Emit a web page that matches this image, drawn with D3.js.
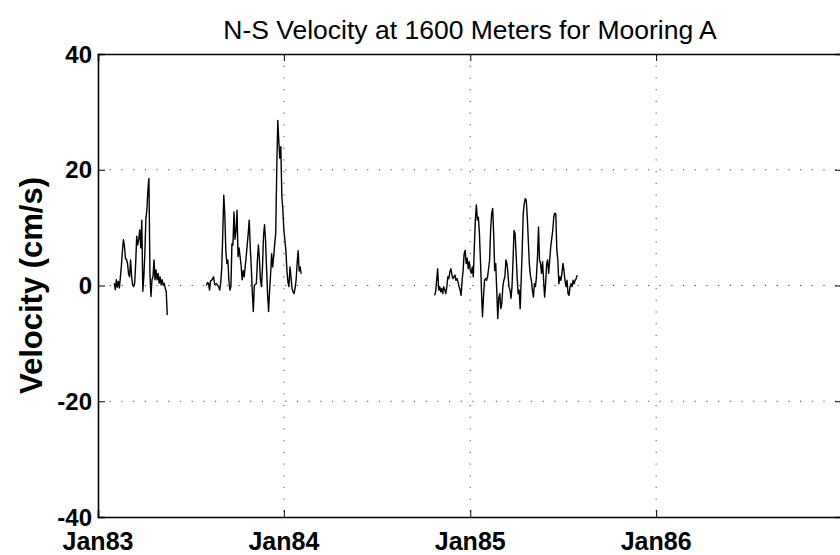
<!DOCTYPE html>
<html>
<head>
<meta charset="utf-8">
<script src="https://cdn.jsdelivr.net/npm/d3@7"></script>
<style>
body { margin: 0; background: #fff; }
svg { display: block; }
text { font-family: "Liberation Sans", Arial, sans-serif; fill: #000; }
</style>
</head>
<body>
<script>

// velocity records (cm/s), one value every 2 days from each start date
var stepDays = 2;

var seg1Start = "1983-02-02";
var seg1Values = [0.4, -0.7, 1.0, -0.3, 0.7, -0.4, 1.5, 3.5, 6.1, 7.9, 6.7, 4.6, 4.5, 3.8, 2.0, 1.5,
    4.4, 1.5, 0.1, -0.2, 0.4, 3.8, 8.5, 7.0, 8.0, 9.6, 6.5, 11.3, -1.0, 1.5, 5.5, 11.5, 13.0, 16.5,
    18.5, 2.0, -1.9, 1.0, 1.5, 4.4, 1.0, 2.7, 1.0, 2.1, 0.4, 1.5, 0.1, 1.0, 0.0, 0.4, -0.5, -1.0, -5.1];

var seg2Start = "1983-08-02";
var seg2Values = [0, 0.5, 0.4, -0.8, 0.8, 0.9, 1.2, 1.5, 0.2, 0.3, 0.3, 0, -0.2, -0.8, 0.5, 3.0,
    9.0, 15.6, 12.3, 6.0, 3.8, 4.4, 0.9, -0.8, -0.2, 7.2, 7.0, 12.7, 8.0, 9.5, 13.0, 5.0, 6.5, 5.0,
    3.5, 1.0, 2.6, 1.5, 3.2, 5.0, 7.0, 9.0, 11.3, 6.6, 3.2, -1.1, -4.5, 0, 0.2, 0.3, 4.4, 7.0, 4.4,
    1.0, -0.2, 3.2, 8.5, 10.5, 7.8, 3.0, -1.5, -4.5, -0.8, 2.0, 5.5, 3.2, 5.0, 7.2, 9.0, 20.0, 28.5,
    25.0, 22.0, 24.0, 15.5, 13.0, 9.5, 7.8, 6.0, 2.6, 0.6, -0.2, 3.2, 1.5, -0.5, -1.1, -1.4, -0.5,
    0.9, 3.8, 6.0, 2.5, 3.2, 2.0];

var seg3Start = "1984-10-23";
var seg3Values = [-1.7, -1.1, 0.9, 2.9, -0.8, -0.2, -1.1, -0.5, -1.4, -0.2, -0.8, -1.4, -0.2, 1.5,
    1.2, 2.4, 2.9, 1.8, 1.2, 1.5, 1.8, 0.9, 1.2, 0.6, -0.2, -0.8, -1.7, 0.9, 2.6, 5.5, 6.1, 3.8, 4.7,
    2.9, 4.1, 2.6, 2.1, 3.2, 1.5, 6.7, 11.3, 13.9, 11.3, 11.8, 9.0, 4.4, -0.8, -5.4, -2.0, 0.9, 1.2,
    0.9, 1.5, 2.9, 4.4, 9.5, 12.4, 13.3, 9.0, 2.6, 3.8, -0.8, -5.7, -2.2, -1.4, -4.0, -3.1, -0.2, 0.9,
    1.5, 4.4, 3.8, 2.1, -0.2, -0.8, -2.2, -0.2, 4.4, 9.5, 9.0, 5.5, 1.5, -1.4, -0.8, -4.0, 0.9, 6.1,
    12.4, 14.1, 15.0, 14.7, 11.8, 7.8, 3.8, 1.8, 0.9, -0.8, -2.0, 0.3, -0.2, 1.5, 4.9, 10.1, 4.4, 3.8,
    2.1, 4.1, 0.9, -2.0, 0.3, 3.8, 4.4, 2.1, 4.4, 6.7, 8.1, 9.5, 11.8, 12.5, 12.4, 6.1, 4.4, 0.3, 1.5,
    0.9, 2.1, 3.8, 2.6, 0.9, -0.2, 0.9, -1.4, -1.7, -0.2, 0.3, -0.2, 0.9, 0.3, 0.9, 1.2, 1.8];

var xTickDates = ["1983-01-01", "1984-01-01", "1985-01-01", "1986-01-01"];
var xTickLabels = ["Jan83", "Jan84", "Jan85", "Jan86"];
var yTicks = [-40, -20, 0, 20, 40];

var titleText = "N-S Velocity at 1600 Meters for Mooring A";
var yLabelText = "Velocity (cm/s)";

var margin = {top: 54, right: -2, bottom: 38, left: 98};
var width = 840 - margin.left - margin.right;
var height = 555 - margin.top - margin.bottom;

var parseDate = d3.utcParse("%Y-%m-%d");

var xScale = d3.scaleUtc()
    .domain([parseDate("1983-01-01"), parseDate("1987-01-01")])
    .range([0, width]);
var yScale = d3.scaleLinear().domain([-40, 40]).range([height, 0]);

function buildSeries(start, values) {
    var t0 = parseDate(start);
    return values.map(function (v, i) {
        return {date: d3.utcDay.offset(t0, i * stepDays), value: v};
    });
}

var segments = [
    buildSeries(seg1Start, seg1Values),
    buildSeries(seg2Start, seg2Values),
    buildSeries(seg3Start, seg3Values)
];

var svg = d3.select("body").append("svg")
    .attr("width", 840)
    .attr("height", 555);

var g = svg.append("g")
    .attr("transform", "translate(" + margin.left + "," + margin.top + ")");

// dotted grid
var tickDates = xTickDates.map(parseDate);
g.selectAll(".xgrid")
    .data(tickDates.slice(1))
    .enter().append("line")
    .attr("class", "xgrid")
    .attr("x1", function (d) { return xScale(d); })
    .attr("x2", function (d) { return xScale(d); })
    .attr("y1", 0)
    .attr("y2", height)
    .attr("stroke", "#444")
    .attr("stroke-width", 1)
    .attr("stroke-dasharray", "1.2,10.5");

g.selectAll(".ygrid")
    .data(yTicks.slice(1, -1))
    .enter().append("line")
    .attr("class", "ygrid")
    .attr("x1", 0)
    .attr("x2", width)
    .attr("y1", function (d) { return yScale(d); })
    .attr("y2", function (d) { return yScale(d); })
    .attr("stroke", "#444")
    .attr("stroke-width", 1)
    .attr("stroke-dasharray", "1.2,10.5");

// velocity trace
var line = d3.line()
    .x(function (d) { return xScale(d.date); })
    .y(function (d) { return yScale(d.value); });

g.selectAll(".trace")
    .data(segments)
    .enter().append("path")
    .attr("class", "trace")
    .attr("d", line)
    .attr("fill", "none")
    .attr("stroke", "#000")
    .attr("stroke-width", 1.4)
    .attr("stroke-linejoin", "round");

// axes box with inward ticks
var xAxisBottom = d3.axisBottom(xScale).tickValues(tickDates).tickSize(-7).tickFormat("");
var xAxisTop = d3.axisTop(xScale).tickValues(tickDates).tickSize(-7).tickFormat("");
var yAxisLeft = d3.axisLeft(yScale).tickValues(yTicks).tickSize(-7).tickFormat("");
var yAxisRight = d3.axisRight(yScale).tickValues(yTicks).tickSize(-7).tickFormat("");

g.append("g").attr("transform", "translate(0," + height + ")").call(xAxisBottom);
g.append("g").call(xAxisTop);
g.append("g").call(yAxisLeft);
g.append("g").attr("transform", "translate(" + width + ",0)").call(yAxisRight);

g.selectAll(".domain").attr("stroke", "#000").attr("stroke-width", 1.6);
g.selectAll(".tick line").attr("stroke", "#000").attr("stroke-width", 1);

// tick labels
g.selectAll(".xlabel")
    .data(tickDates)
    .enter().append("text")
    .attr("class", "xlabel")
    .attr("x", function (d) { return xScale(d); })
    .attr("y", height + 33)
    .attr("text-anchor", "middle")
    .attr("font-size", "25px")
    .attr("font-weight", "bold")
    .text(function (d, i) { return xTickLabels[i]; });

g.selectAll(".ylabel")
    .data(yTicks)
    .enter().append("text")
    .attr("class", "ylabel")
    .attr("x", -6)
    .attr("y", function (d) { return yScale(d); })
    .attr("dy", "0.36em")
    .attr("text-anchor", "end")
    .attr("font-size", "24px")
    .attr("font-weight", "bold")
    .text(function (d) { return d; });

svg.append("text")
    .attr("x", margin.left + xScale.range()[1] / 2)
    .attr("y", 39)
    .attr("text-anchor", "middle")
    .attr("font-size", "26.5px")
    .text(titleText);

svg.append("text")
    .attr("transform", "translate(42," + (margin.top + height / 2) + ") rotate(-90)")
    .attr("text-anchor", "middle")
    .attr("font-size", "31px")
    .attr("font-weight", "bold")
    .text(yLabelText);

</script>
</body>
</html>
